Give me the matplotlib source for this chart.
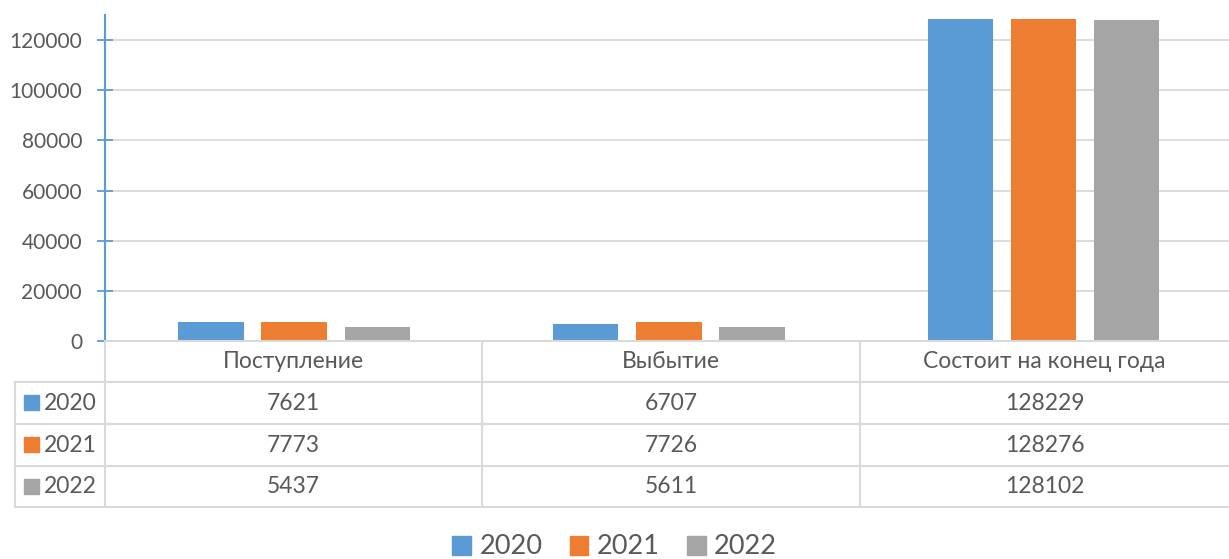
import matplotlib.pyplot as plt
import numpy as np

# data
categories = ['Поступление', 'Выбытие', 'Состоит на конец года']
years = ['2020', '2021', '2022']
vals_2020 = [7621, 6707, 128229]
vals_2021 = [7773, 7726, 128276]
vals_2022 = [5437, 5611, 128102]
colors = ['#5B9BD5', '#ED7D31', '#A5A5A5']

plt.rcParams['font.family'] = ['Lato', 'DejaVu Sans']
W, H = 1229, 559
fig = plt.figure(figsize=(W / 100, H / 100), dpi=100)

# axes box in pixels
x0, x1 = 105, 1229
ytop, ybot = 15, 341
ax = fig.add_axes([x0 / W, 1 - ybot / H, (x1 - x0) / W, (ybot - ytop) / H])

x = np.arange(len(categories))
series = [vals_2020, vals_2021, vals_2022]
bw = 0.175
step = 0.222
for i, (vals, c) in enumerate(zip(series, colors)):
    ax.bar(x + (i - 1) * step + 0.005, vals, width=bw, color=c, zorder=3)

ax.set_xlim(-0.5, 2.5)
ax.set_ylim(0, 130000)
ax.set_yticks(range(0, 130000, 20000))
ax.tick_params(axis='y', labelsize=15, labelcolor='#595959', color='#5B9BD5',
               length=11, width=1.3, direction='inout', pad=11)
ax.set_xticks([])
ax.grid(axis='y', color='#D9D9D9', linewidth=1.3, zorder=0)
for s in ['top', 'right', 'bottom']:
    ax.spines[s].set_visible(False)
ax.spines['left'].set_color('#5B9BD5')
ax.spines['left'].set_linewidth(1.5)

# data table below the axes, in pixel coords
line_c = '#D9D9D9'
tx0 = 15
col_x = [105, 482, 860, 1229]
row_y = [341, 382, 424, 466, 507]


def fx(px):
    return px / W


def fy(py):
    return 1 - py / H


def hline(py, xa, xb):
    fig.add_artist(plt.Line2D([fx(xa), fx(xb)], [fy(py), fy(py)], color=line_c, lw=1.5))


def vline(px, ya, yb):
    fig.add_artist(plt.Line2D([fx(px), fx(px)], [fy(ya), fy(yb)], color=line_c, lw=1.5))


hline(row_y[0], col_x[0], col_x[-1])
for py in row_y[1:]:
    hline(py, tx0, col_x[-1])
vline(tx0, row_y[1], row_y[-1])
for px in col_x[:-1]:
    vline(px, row_y[0], row_y[-1])

txt_c = '#595959'
fs = 16.5
for j, cat in enumerate(categories):
    cx = (col_x[j] + col_x[j + 1]) / 2
    fig.text(fx(cx), fy((row_y[0] + row_y[1]) / 2), cat, ha='center', va='center',
             fontsize=fs, color=txt_c)

for i, (yr, vals, c) in enumerate(zip(years, series, colors)):
    cy = (row_y[i + 1] + row_y[i + 2]) / 2
    fig.patches.append(plt.Rectangle((fx(24), fy(cy + 7)), 15 / W, 15 / H,
                                     color=c, transform=fig.transFigure))
    fig.text(fx(44), fy(cy), yr, ha='left', va='center', fontsize=fs, color=txt_c)
    for j, v in enumerate(vals):
        cx = (col_x[j] + col_x[j + 1]) / 2
        fig.text(fx(cx), fy(cy), str(v), ha='center', va='center',
                 fontsize=fs, color=txt_c)

# legend
handles = [plt.Rectangle((0, 0), 1, 1, color=c) for c in colors]
fig.legend(handles, years, loc='center', bbox_to_anchor=(0.5, fy(547)), ncol=3,
           frameon=False, fontsize=19.5, labelcolor=txt_c, handlelength=0.7,
           handleheight=0.7, handletextpad=0.3, columnspacing=1.0)

fig.savefig('out.png', dpi=100, facecolor='white')
